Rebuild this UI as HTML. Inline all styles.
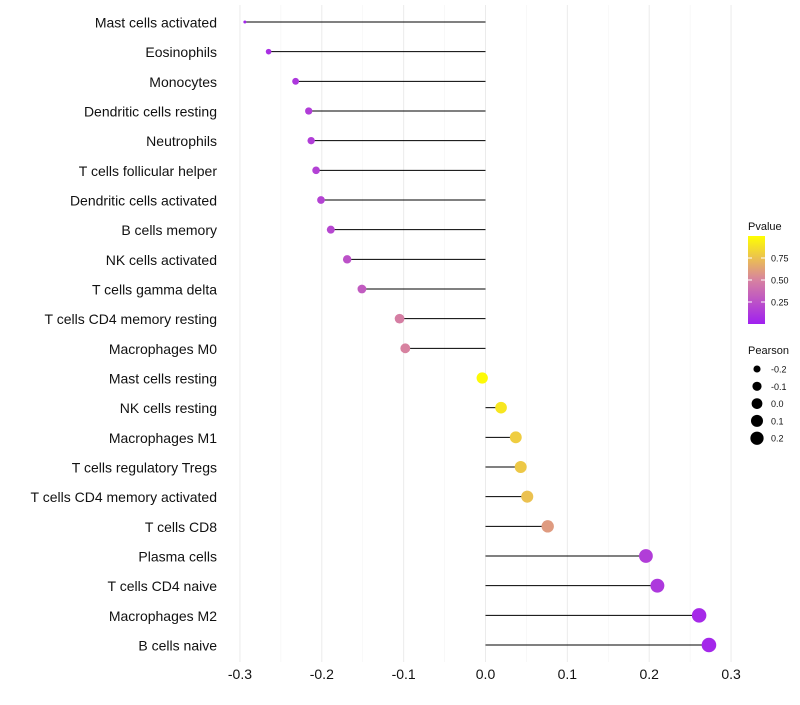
<!DOCTYPE html>
<html><head><meta charset="utf-8"><style>
body{margin:0;background:#fff;}
svg{font-family:"Liberation Sans",sans-serif;}
</style></head><body>
<svg id="c" width="800" height="700"></svg>
<script>
const categories=["Mast cells activated","Eosinophils","Monocytes","Dendritic cells resting","Neutrophils","T cells follicular helper","Dendritic cells activated","B cells memory","NK cells activated","T cells gamma delta","T cells CD4 memory resting","Macrophages M0","Mast cells resting","NK cells resting","Macrophages M1","T cells regulatory  Tregs ","T cells CD4 memory activated","T cells CD8","Plasma cells","T cells CD4 naive","Macrophages M2","B cells naive"];
const pearson=[-0.294,-0.265,-0.232,-0.216,-0.213,-0.207,-0.201,-0.189,-0.169,-0.151,-0.105,-0.098,-0.004,0.019,0.037,0.043,0.051,0.076,0.196,0.210,0.261,0.273];
const pvalues=[0.03,0.08,0.12,0.15,0.15,0.17,0.18,0.2,0.25,0.3,0.48,0.5,0.98,0.9,0.8,0.78,0.75,0.6,0.15,0.12,0.05,0.04];
const xTicks=[-0.3,-0.2,-0.1,0.0,0.1,0.2,0.3];
const xTickLabels=["-0.3","-0.2","-0.1","0.0","0.1","0.2","0.3"];
const sizeLegend=[-0.2,-0.1,0.0,0.1,0.2];
const pLegend=[0.25,0.5,0.75];

const NS="http://www.w3.org/2000/svg";
const svg=document.getElementById('c');
function mk(t,a,p){const e=document.createElementNS(NS,t);for(const k in a)e.setAttribute(k,a[k]);(p||svg).appendChild(e);return e;}
const x=v=>485.5+v*818.5;
const y=i=>22+i*(623/(categories.length-1));
const pmin=Math.min(...pearson),pmax=Math.max(...pearson);
const r=v=>1.5+5.8*Math.sqrt(Math.max(0,(v-pmin)/(pmax-pmin)));
function lerp(a,b,t){return a.map((c,i)=>Math.round(c+(b[i]-c)*t));}
function col(p){const s=[[160,32,240],[215,130,160],[255,255,0]];let c=p<0.5?lerp(s[0],s[1],p/0.5):lerp(s[1],s[2],(p-0.5)/0.5);return `rgb(${c})`;}

for(let i=0;i<xTicks.length;i++){
 const g=mk('line',{x1:x(xTicks[i]),x2:x(xTicks[i]),y1:5,y2:662,stroke:'#ebebeb','stroke-width':1});
 
 if(i<xTicks.length-1){const m=(xTicks[i]+xTicks[i+1])/2;const g2=mk('line',{x1:x(m),x2:x(m),y1:5,y2:662,stroke:'#f4f4f4','stroke-width':0.6});
 }
 const t=mk('text',{x:x(xTicks[i]),y:679,'text-anchor':'middle','font-size':14,fill:'#111'});t.textContent=xTickLabels[i];
 
}
categories.forEach((c,i)=>{
 const t=mk('text',{x:217,y:y(i)+5.5,'text-anchor':'end','font-size':14,fill:'#111'});t.textContent=c;
 
 const l=mk('line',{x1:x(0),x2:x(pearson[i]),y1:y(i),y2:y(i),stroke:'#000','stroke-width':1});
 
 const d=mk('circle',{cx:x(pearson[i]),cy:y(i),r:r(pearson[i]),fill:col(pvalues[i])});
 
});
const lt=mk('text',{x:748,y:230,'font-size':11,fill:'#111'});lt.textContent='Pvalue';

const defs=mk('defs',{});const gr=mk('linearGradient',{id:'gr',x1:0,y1:1,x2:0,y2:0},defs);
[[0,'#a020f0'],[0.5,'#d782a0'],[1,'#ffff00']].forEach(s=>mk('stop',{offset:s[0],'stop-color':s[1]},gr));
const gb=mk('rect',{x:748,y:236,width:17,height:88,fill:'url(#gr)'});

pLegend.forEach(p=>{const yy=324-p*88;
 mk('line',{x1:748,x2:752,y1:yy,y2:yy,stroke:'#fff'});mk('line',{x1:761,x2:765,y1:yy,y2:yy,stroke:'#fff'});
 const t=mk('text',{x:771,y:yy+3.5,'font-size':9,fill:'#111'});t.textContent=p.toFixed(2);
 });
const st=mk('text',{x:748,y:354,'font-size':11,fill:'#111'});st.textContent='Pearson';

sizeLegend.forEach((v,i)=>{const yy=369+i*17.3;
 const c=mk('circle',{cx:757,cy:yy,r:r(v)-0.3,fill:'#000'});
 
 const t=mk('text',{x:771,y:yy+3.5,'font-size':9,fill:'#111'});t.textContent=v.toFixed(1);
 });
</script>
</body></html>
